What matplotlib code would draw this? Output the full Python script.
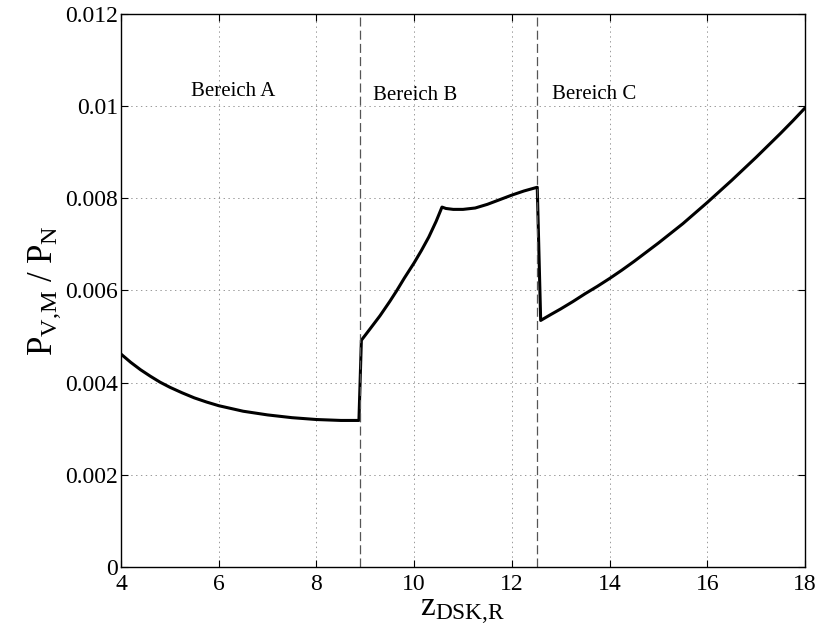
import numpy as np
import matplotlib
matplotlib.use("Agg")
import matplotlib.pyplot as plt
from matplotlib.ticker import FixedLocator, FixedFormatter

# serif look like the MATLAB original
plt.rcParams['font.family'] = ['Liberation Serif', 'DejaVu Serif']
plt.rcParams['mathtext.fontset'] = 'custom'
plt.rcParams['mathtext.rm'] = 'Liberation Serif'
plt.rcParams['mathtext.it'] = 'Liberation Serif:italic'
plt.rcParams['lines.scale_dashes'] = False

# curve (y in units of 1e-3), three branches
x_a = [4.0, 4.2, 4.4, 4.6, 4.8, 5.0, 5.25, 5.5, 5.75, 6.0, 6.25, 6.5, 6.75,
       7.0, 7.25, 7.5, 7.75, 8.0, 8.25, 8.5, 8.87]
y_a = [4.62, 4.44, 4.28, 4.14, 4.01, 3.90, 3.78, 3.67, 3.58, 3.50, 3.44, 3.38, 3.34,
       3.30, 3.27, 3.24, 3.22, 3.20, 3.19, 3.18, 3.18]

x_b = [8.92, 9.1, 9.3, 9.5, 9.64, 9.8, 10.0, 10.15, 10.3, 10.45, 10.57,
       10.65, 10.8, 11.0, 11.25, 11.5, 11.75, 12.0, 12.25, 12.52]
y_b = [4.92, 5.17, 5.45, 5.76, 5.99, 6.27, 6.60, 6.87, 7.16, 7.50, 7.81,
       7.78, 7.76, 7.76, 7.79, 7.87, 7.97, 8.07, 8.16, 8.24]

x_c = [12.59, 12.8, 13.0, 13.25, 13.5, 13.75, 14.0, 14.25, 14.5, 14.75, 15.0,
       15.25, 15.5, 15.75, 16.0, 16.25, 16.5, 16.75, 17.0, 17.25, 17.5, 17.75, 18.0]
y_c = [5.35, 5.48, 5.60, 5.76, 5.93, 6.09, 6.26, 6.44, 6.63, 6.83, 7.03,
       7.24, 7.45, 7.68, 7.91, 8.15, 8.39, 8.64, 8.89, 9.15, 9.41, 9.68, 9.96]

# region borders and labels
borders = [8.9, 12.51]
region_names = ['Bereich A', 'Bereich B', 'Bereich C']
region_x = [6.29, 10.03, 13.68]
region_y = [0.01031, 0.01024, 0.01026]

xticks = [4, 6, 8, 10, 12, 14, 16, 18]
yticks = [0, 0.002, 0.004, 0.006, 0.008, 0.01, 0.012]
ytick_labels = ['0', '0.002', '0.004', '0.006', '0.008', '0.01', '0.012']

#%%
x_all = np.array(x_a + x_b + x_c)
y_all = np.array(y_a + y_b + y_c) * 1e-3

fig = plt.figure(figsize=(8.17, 6.39), dpi=100)
ax = fig.add_axes([0.1481, 0.1127, 0.8372, 0.8654])

ax.plot(x_all, y_all, color='k', linewidth=2.2, solid_joinstyle='round')
for b in borders:
    ax.axvline(b, color='#555555', linewidth=0.9, dashes=[6.5, 3.0])

for name, tx, ty in zip(region_names, region_x, region_y):
    ax.text(tx, ty, name, ha='center', va='center', fontsize=15)

ax.set_xlim(4, 18)
ax.set_ylim(0, 0.012)
ax.xaxis.set_major_locator(FixedLocator(xticks))
ax.yaxis.set_major_locator(FixedLocator(yticks))
ax.yaxis.set_major_formatter(FixedFormatter(ytick_labels))
ax.grid(True, color='#888888', linewidth=0.6, linestyle=(0, (1, 2.5)))
ax.tick_params(direction='in', top=True, right=True, length=5, width=0.8,
               labelsize=17)
ax.tick_params(axis='y', pad=2)
ax.tick_params(axis='x', pad=5)
for sp in ax.spines.values():
    sp.set_linewidth(1.0)

# {,} keeps mathtext from adding space after the comma
ax.set_xlabel(r'$\mathrm{z}_{\mathrm{DSK{,}R}}$', fontsize=24, labelpad=1)
ax.set_ylabel(r'$\mathrm{P}_{\mathrm{V{,}M}}\ /\ \mathrm{P}_{\mathrm{N}}$', fontsize=25, labelpad=2)

fig.savefig('out.png', dpi=100)
